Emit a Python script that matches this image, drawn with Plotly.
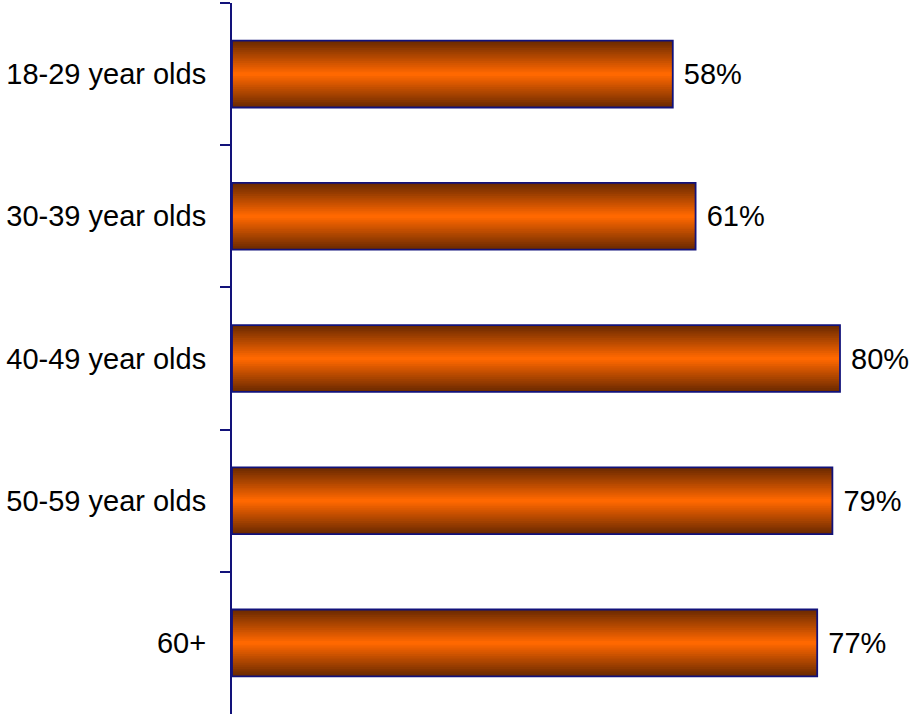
import plotly.graph_objects as go

categories = ["18-29 year olds", "30-39 year olds", "40-49 year olds", "50-59 year olds", "60+"]
values = [58, 61, 80, 79, 77]
labels = ["58%", "61%", "80%", "79%", "77%"]

BAR_W = 0.47
N = 18
dark = (108, 42, 0)
bright = (255, 104, 0)
NAVY = "#12127a"

fig = go.Figure()
for i in range(N):
    t = i / (N - 1)
    c = tuple(int(round(dark[k] + (bright[k] - dark[k]) * t)) for k in range(3))
    w = BAR_W * (1 - i / N)
    fig.add_trace(go.Bar(
        y=categories, x=values, orientation="h", width=w,
        marker=dict(color=f"rgb{c}", line=dict(width=0)),
        hoverinfo="skip", showlegend=False,
    ))
# outline + text
fig.add_trace(go.Bar(
    y=categories, x=values, orientation="h", width=BAR_W,
    marker=dict(color="rgba(0,0,0,0)", line=dict(color=NAVY, width=1.8)),
    text=[" " + s for s in labels], textposition="outside", cliponaxis=False,
    textfont=dict(family="Liberation Sans, Arial", size=29, color="black"),
    showlegend=False,
))

fig.update_layout(
    width=909, height=717,
    margin=dict(l=232, r=0, t=3, b=3, autoexpand=False),
    barmode="overlay",
    plot_bgcolor="white", paper_bgcolor="white",
    font=dict(family="Liberation Sans, Arial", size=29, color="black"),
    xaxis=dict(range=[0, 89.08], visible=False, showgrid=False, zeroline=False, automargin=False),
    yaxis=dict(
        categoryorder="array", categoryarray=categories, autorange="reversed",
        showline=True, linecolor=NAVY, linewidth=2,
        ticks="outside", tickson="boundaries", ticklen=10, tickcolor=NAVY, tickwidth=2,
        ticklabelstandoff=18, showgrid=False, zeroline=False, automargin=False,
    ),
)
fig.write_html("out.html", config={"displayModeBar": False},
               post_script="document.body.style.margin='0';document.body.style.overflow='hidden';")
